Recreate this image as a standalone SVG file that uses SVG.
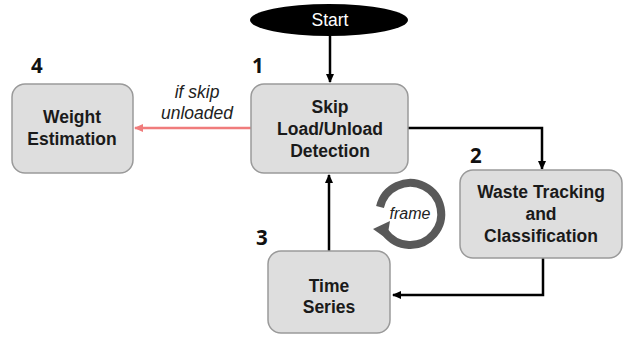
<svg xmlns="http://www.w3.org/2000/svg" width="624" height="337" viewBox="0 0 624 337">
<style>
.box{fill:#dedede;stroke:#9a9a9a;stroke-width:1.5}
.t{font-family:"Liberation Sans",Arial,sans-serif;font-weight:bold;font-size:17.5px;fill:#1a1a1a;text-anchor:middle}
.n{font-family:"Open Sans","Liberation Sans",sans-serif;font-weight:bold;font-size:20.5px;fill:#111}
.i{font-family:"Liberation Sans",Arial,sans-serif;font-style:italic;font-size:17.5px;fill:#222;text-anchor:middle}
.c{fill:none;stroke:#000;stroke-width:2.5}
</style>
<defs>
<marker id="ah" markerWidth="10" markerHeight="10" refX="8" refY="5" orient="auto" markerUnits="userSpaceOnUse">
<path d="M0,1 L9,5 L0,9 Z" fill="#000"/>
</marker>
<marker id="ahr" markerWidth="10" markerHeight="10" refX="8" refY="5" orient="auto" markerUnits="userSpaceOnUse">
<path d="M0,1 L9,5 L0,9 Z" fill="#f07c7c"/>
</marker>
</defs>
<g id="connectors">
<line class="c" x1="330" y1="36" x2="330" y2="82" marker-end="url(#ah)"/>
<polyline class="c" points="408,128 542,128 542,169" marker-end="url(#ah)"/>
<polyline class="c" points="543,258 543,295 393,295" marker-end="url(#ah)"/>
<line class="c" x1="329" y1="251" x2="329" y2="175" marker-end="url(#ah)"/>
<line x1="251" y1="128" x2="135" y2="128" stroke="#f07c7c" stroke-width="2.5" marker-end="url(#ahr)"/>
<text class="i" x="197" y="98">if skip</text>
<text class="i" x="197" y="119">unloaded</text>
</g>
<g id="start">
<ellipse cx="329" cy="20" rx="79" ry="16" fill="#000"/>
<text x="330" y="26" font-family="Liberation Sans,Arial,sans-serif" font-size="17.5" fill="#fff" text-anchor="middle">Start</text>
</g>
<g id="node1">
<rect class="box" x="251" y="84" width="157" height="89" rx="13"/>
<text class="t" x="330" y="113">Skip</text>
<text class="t" x="330" y="135">Load/Unload</text>
<text class="t" x="330" y="157">Detection</text>
<text class="n" x="252" y="73">1</text>
</g>
<g id="node4">
<rect class="box" x="12" y="84" width="121" height="89" rx="13"/>
<text class="t" x="72" y="123">Weight</text>
<text class="t" x="72" y="145">Estimation</text>
<text class="n" x="31" y="73">4</text>
</g>
<g id="node2">
<rect class="box" x="460" y="170" width="162" height="88" rx="13"/>
<text class="t" x="541" y="198">Waste Tracking</text>
<text class="t" x="541" y="220">and</text>
<text class="t" x="541" y="242">Classification</text>
<text class="n" x="470" y="163">2</text>
</g>
<g id="node3">
<rect class="box" x="268" y="251" width="122" height="82" rx="13"/>
<text class="t" x="329" y="292">Time</text>
<text class="t" x="329" y="313">Series</text>
<text class="n" x="256" y="245">3</text>
</g>
<g id="frame">
<path d="M 380 207 A 31 31 0 1 1 385 232" fill="none" stroke="#595959" stroke-width="8"/>
<path d="M 373 229 L 390 221 L 387 239 Z" fill="#595959"/>
<text x="410" y="219" font-family="Liberation Sans,Arial,sans-serif" font-style="italic" font-size="16" fill="#222" text-anchor="middle">frame</text>
</g>
</svg>
